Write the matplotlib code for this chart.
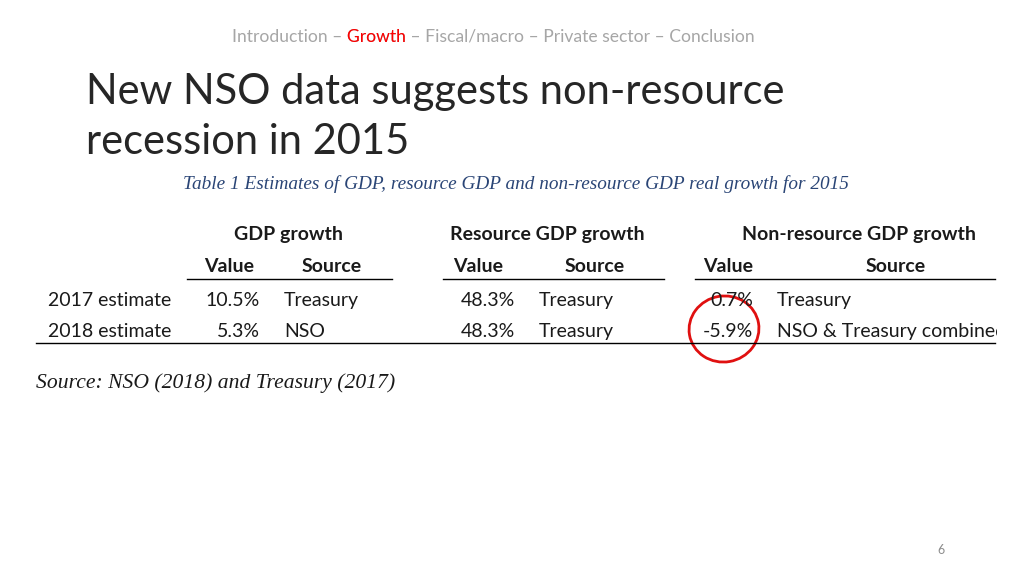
import matplotlib
matplotlib.use('Agg')
from matplotlib import pyplot as plt
from matplotlib.patches import Ellipse, Rectangle
from matplotlib.transforms import Bbox, TransformedBbox

# table content
groups = ['GDP growth', 'Resource GDP growth', 'Non-resource GDP growth']
row_labels = ['2017 estimate', '2018 estimate']
gdp_values = ['10.5%', '5.3%']
gdp_sources = ['Treasury', 'NSO']
res_values = ['48.3%', '48.3%']
res_sources = ['Treasury', 'Treasury']
nonres_values = ['0.7%', '-5.9%']
nonres_sources = ['Treasury', 'NSO & Treasury combined']

nav_items = ['Introduction', 'Growth', 'Fiscal/macro', 'Private sector', 'Conclusion']
active_nav = 'Growth'

SANS = ['Lato', 'DejaVu Sans']
SERIF = ['Liberation Serif', 'DejaVu Serif']
GREY = '#a6a6a6'
TXT = '#1a1a1a'
FS = 14

fig = plt.figure(figsize=(10.24, 5.76), dpi=100)
ax = fig.add_axes([0, 0, 1, 1])
ax.set_xlim(0, 1024)
ax.set_ylim(576, 0)
ax.axis('off')
renderer = fig.canvas.get_renderer()

# navigation header: the full line in grey, then the same line in red
# clipped to the active item, so both share one baseline
sep = ' \u2013 '
nav = sep.join(nav_items)
nav_x = 232
ax.text(nav_x, 41, nav, color=GREY, fontsize=12.6, family=SANS,
        va='baseline', ha='left')
red = ax.text(nav_x, 41, nav, color='red', fontsize=12.6, family=SANS,
              va='baseline', ha='left', clip_on=True)
k = nav_items.index(active_nav)
before = sep.join(nav_items[:k]) + sep
prop = red.get_fontproperties()
x0 = nav_x + renderer.get_text_width_height_descent(before, prop, ismath=False)[0]
x1 = nav_x + renderer.get_text_width_height_descent(before + active_nav, prop, ismath=False)[0]
red.set_clip_box(TransformedBbox(Bbox([[x0 - 1.5, 0], [x1 + 1.5, 576]]), ax.transData))

# title
ax.text(86, 104, 'New NSO data suggests non-resource', fontsize=30,
        family=SANS, color='#262626', va='baseline', ha='left')
ax.text(86, 154, 'recession in 2015', fontsize=30,
        family=SANS, color='#262626', va='baseline', ha='left')

# caption
ax.text(516, 189, 'Table 1 Estimates of GDP, resource GDP and non-resource GDP real growth for 2015',
        fontsize=13.9, family=SERIF, style='italic', color='#2a4576',
        va='baseline', ha='center')

# table layout (pixel columns)
group_centers = [289, 547, 859]
value_right = [260, 515, 753]
source_left = [284, 539, 777]
value_hdr = [229, 478, 728]
source_hdr = [332, 595, 896]
rule_spans = [(187, 392), (443, 664), (695, 995)]
row_y = [306, 337]

for g, cx in zip(groups, group_centers):
    ax.text(cx, 240, g, fontsize=FS, family=SANS, fontweight='bold',
            color=TXT, va='baseline', ha='center')
for vx, sx in zip(value_hdr, source_hdr):
    ax.text(vx, 272, 'Value', fontsize=FS, family=SANS, fontweight='bold',
            color=TXT, va='baseline', ha='center')
    ax.text(sx, 272, 'Source', fontsize=FS, family=SANS, fontweight='bold',
            color=TXT, va='baseline', ha='center')
for a, b in rule_spans:
    ax.plot([a, b], [279, 279], color='black', lw=1)

clip = Rectangle((0, 0), 997, 576, transform=ax.transData)
cols = [(gdp_values, gdp_sources), (res_values, res_sources),
        (nonres_values, nonres_sources)]
for r, y in enumerate(row_y):
    ax.text(48, y, row_labels[r], fontsize=FS, family=SANS, color=TXT,
            va='baseline', ha='left')
    for (vals, srcs), vr, sl in zip(cols, value_right, source_left):
        ax.text(vr, y, vals[r], fontsize=FS, family=SANS, color=TXT,
                va='baseline', ha='right')
        t = ax.text(sl, y, srcs[r], fontsize=FS, family=SANS, color=TXT,
                    va='baseline', ha='left', clip_on=True)
        t.set_clip_path(clip)

ax.plot([36, 995], [343, 343], color='black', lw=1)

# red highlight circle
ax.add_patch(Ellipse((724, 329), 70, 66, angle=-10, fill=False,
                     edgecolor='#e01010', lw=2))

# source note
ax.text(36, 388, 'Source: NSO (2018) and Treasury (2017)', fontsize=15.6,
        family=SERIF, style='italic', color=TXT, va='baseline', ha='left')

# page number
ax.text(941, 554, '6', fontsize=9, family=SANS, color='#8c8c8c',
        va='baseline', ha='center')

fig.savefig('out.png', dpi=100)
